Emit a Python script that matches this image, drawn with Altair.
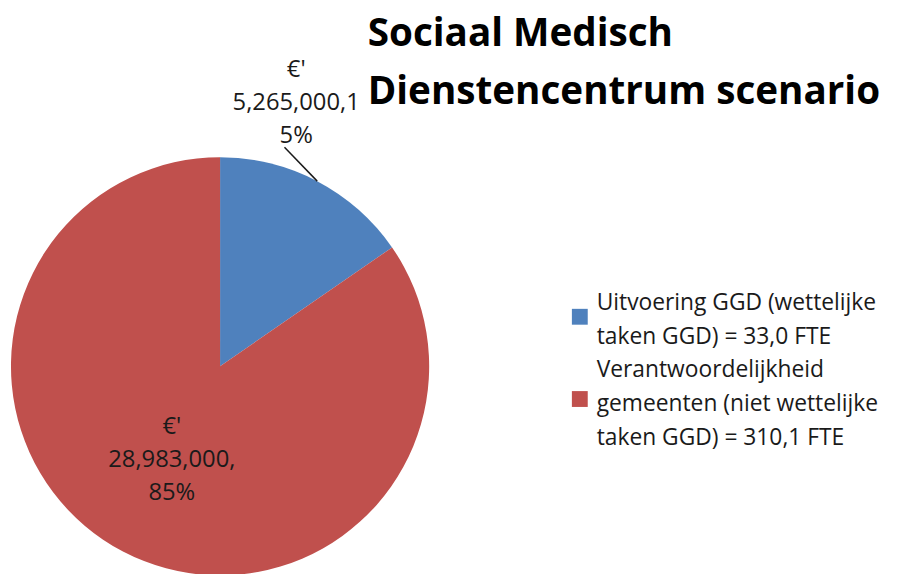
import math
import altair as alt
import pandas as pd

categories = ["Uitvoering GGD (wettelijke taken GGD) = 33,0 FTE",
              "Verantwoordelijkheid gemeenten (niet wettelijke taken GGD) = 310,1 FTE"]
legend_lines = ["Uitvoering GGD (wettelijke\ntaken GGD) = 33,0 FTE",
                "Verantwoordelijkheid\ngemeenten (niet wettelijke\ntaken GGD) = 310,1 FTE"]
values = [5265000, 28983000]
slice_labels = ["€'\n5,265,000,1\n5%", "€'\n28,983,000,\n85%"]
colors = ["#4F81BD", "#C0504D"]
title_lines = ["Sociaal Medisch", "Dienstencentrum scenario"]

df = pd.DataFrame({
    "category": categories,
    "value": values,
    "legend": legend_lines,
    "idx": [0, 1],
    "lab_blue": [slice_labels[0], ""],
    "lab_red": ["", slice_labels[1]],
})

CX, CY, R = 214, 359, 211
FONT = "Open Sans"

color = alt.Color("category:N", scale=alt.Scale(domain=categories, range=colors), legend=None)
theta = alt.Theta("value:Q", stack=True)
order = alt.Order("idx:Q")

base = alt.Chart(df)

pie = base.mark_arc(outerRadius=R, stroke=None).encode(
    theta=theta, color=color, order=order,
    x=alt.value(CX), y=alt.value(CY),
)

lab_font = dict(font=FONT, fontSize=24, lineBreak="\n", lineHeight=33,
                color="#1a1a1a", align="center", baseline="middle")

lab_blue = base.mark_text(radius=230, dx=-30, dy=-95, **lab_font).encode(
    theta=theta, order=order, text="lab_blue:N",
    x=alt.value(CX), y=alt.value(CY),
)
lab_red = base.mark_text(radius=107, dx=1, dy=-33, **lab_font).encode(
    theta=theta, order=order, text="lab_red:N",
    x=alt.value(CX), y=alt.value(CY),
)

# leader line from blue slice edge (mid-angle) to label
total = sum(values)
mid = (values[0] / 2) / total * 2 * math.pi
ex, ey = CX + R * math.sin(mid), CY - R * math.cos(mid)
leader = alt.Chart(pd.DataFrame({"a": [0]})).mark_rule(color="#1a1a1a", strokeWidth=1.5).encode(
    x=alt.value(279), y=alt.value(138), x2=alt.value(ex), y2=alt.value(ey)
)

ysym = alt.Y("category:N", scale=alt.Scale(domain=categories, range=[309, 392], type="point", padding=0), axis=None)
ytxt = alt.Y("category:N", scale=alt.Scale(domain=categories, range=[295, 363], type="point", padding=0), axis=None)
leg_sym = base.mark_square(size=256, opacity=1).encode(
    x=alt.value(577), y=ysym, color=color,
)
leg_txt = alt.Chart(df).mark_text(font=FONT, fontSize=23, lineBreak="\n", lineHeight=34,
                                  color="#1a1a1a", align="left", baseline="middle").encode(
    x=alt.value(594), y=ytxt, text="legend:N",
)

title_df = pd.DataFrame({"t": title_lines, "i": [0, 1]})
title = alt.Chart(title_df).mark_text(font=FONT, fontSize=39, fontWeight="bold",
                                      color="#000000", align="left", baseline="middle").encode(
    x=alt.value(363),
    y=alt.Y("i:O", scale=alt.Scale(domain=[0, 1], range=[24, 82], type="point", padding=0), axis=None),
    text="t:N",
)

chart = alt.layer(pie, leader, lab_blue, lab_red, leg_sym, leg_txt, title).resolve_scale(
    y="independent"
).properties(
    width=889, height=566,
    autosize=alt.AutoSizeParams(type="none"),
    padding=0,
    background="white",
).configure_view(stroke=None)

chart.save("out.html", embed_options={"renderer": "svg", "actions": False})
